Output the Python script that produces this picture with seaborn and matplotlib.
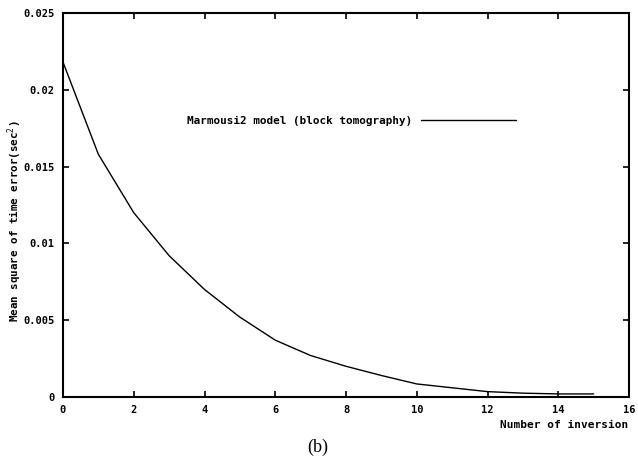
import matplotlib
matplotlib.use("Agg")
import matplotlib.pyplot as plt
import seaborn as sns
import pandas as pd

iterations = [0, 1, 2, 3, 4, 5, 6, 7, 8, 9, 10, 11, 12, 13, 14, 15]
mse = [0.0218, 0.0158, 0.0120, 0.0092, 0.0070, 0.0052, 0.0037, 0.0027,
       0.0020, 0.0014, 0.00085, 0.0006, 0.00035, 0.00025, 0.0002, 0.0002]
series_label = "Marmousi2 model (block tomography)"
x_ticks = [0, 2, 4, 6, 8, 10, 12, 14, 16]
y_ticks = [0, 0.005, 0.01, 0.015, 0.02, 0.025]
y_tick_labels = ["0", "0.005", "0.01", "0.015", "0.02", "0.025"]

df = pd.DataFrame({"iter": iterations, "mse": mse})

sns.set_style("ticks")
mono = ["DejaVu Sans Mono"]
plt.rcParams["font.family"] = mono
plt.rcParams["text.color"] = "black"
plt.rcParams["axes.labelcolor"] = "black"
plt.rcParams["xtick.color"] = "black"
plt.rcParams["ytick.color"] = "black"

fig = plt.figure(figsize=(6.38, 4.65), dpi=100)
ax = fig.add_axes([63/638, 1-397/465, 566/638, 384/465])

sns.lineplot(data=df, x="iter", y="mse", ax=ax, color="black",
             linewidth=1.0, label=series_label)

ax.set_xlim(0, 16)
ax.set_ylim(0, 0.025)
ax.set_xticks(x_ticks)
ax.set_xticklabels([str(t) for t in x_ticks])
ax.set_yticks(y_ticks)
ax.set_yticklabels(y_tick_labels)
ax.tick_params(direction="in", length=4, width=1.2, top=True, right=True,
               labelsize=7.5, pad=6)
for lbl in ax.get_xticklabels() + ax.get_yticklabels():
    lbl.set_fontweight("bold")
for s in ax.spines.values():
    s.set_linewidth(1.5)
    s.set_color("black")

ax.set_xlabel("")
ax.set_ylabel("")
fig.text(15/638, 1-221/465, "Mean square of time error(sec$^2$)",
         rotation=90, ha="center", va="center", fontsize=7.8,
         fontweight="bold", family=mono)
fig.text(628/638, 1-425/465, "Number of inversion", ha="right", va="center",
         fontsize=8, fontweight="bold", family=mono)
fig.text(318/638, 1-447/465, "(b)", ha="center", va="center",
         fontsize=13, family=["Liberation Serif"])

leg = ax.legend(loc="center right", bbox_to_anchor=(0.80, 0.72),
                frameon=False, markerfirst=False, handlelength=8.6,
                handletextpad=0.8, borderpad=0, borderaxespad=0,
                prop={"family": mono, "size": 7.9, "weight": "bold"})

fig.savefig("out.png", dpi=100, facecolor="white")
